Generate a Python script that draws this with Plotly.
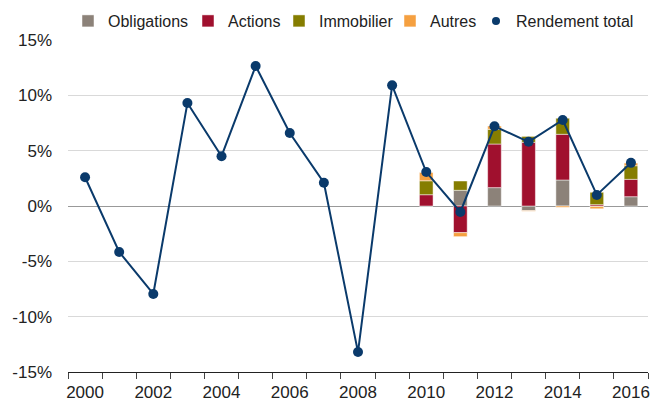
import plotly.graph_objects as go

years = list(range(2000, 2017))
total = [2.6, -4.15, -7.95, 9.3, 4.5, 12.65, 6.6, 2.1, -13.2, 10.9, 3.07, -0.54, 7.2, 5.8, 7.77, 1.0, 3.9]

bar_years = [2010, 2011, 2012, 2013, 2014, 2015, 2016]
obligations = [0.0, 1.42, 1.66, -0.42, 2.35, -0.05, 0.84]
actions = [1.02, -2.41, 3.94, 5.75, 4.13, 0.12, 1.57]
immobilier = [1.26, 0.84, 1.33, 0.54, 1.45, 1.12, 1.23]
autres = [0.75, -0.36, 0.3, -0.05, -0.12, -0.2, 0.24]

ytick_vals = [-15, -10, -5, 0, 5, 10, 15]
ytick_text = ["-15%", "-10%", "-5%", "0%", "5%", "10%", "15%"]
xtick_vals = list(range(2000, 2017, 2))

W, H = 653, 401
font = "Liberation Sans, Arial, sans-serif"
navy = "#0a3a6b"
fig = go.Figure()
series = [("Obligations", obligations, "#8c8279"),
          ("Actions", actions, "#a0102e"),
          ("Immobilier", immobilier, "#857d00"),
          ("Autres", autres, "#f5a040")]
legend_ids = ["legend", "legend2", "legend3", "legend4", "legend5"]
legend_px = [68, 188, 279, 390, 476]

for i, (name, vals, col) in enumerate(series):
    fig.add_trace(go.Bar(x=bar_years, y=vals, name=name, width=0.4, legend=legend_ids[i],
                         marker=dict(color=col, line=dict(color="rgba(255,255,255,0.6)", width=0.8))))

fig.add_trace(go.Scatter(x=years, y=total, name="Rendement total", mode="lines+markers",
                         showlegend=False,
                         line=dict(color=navy, width=2),
                         marker=dict(color=navy, size=10)))
# legend-only entry (dot without line)
fig.add_trace(go.Scatter(x=[None], y=[None], name="Rendement total", mode="markers",
                         legend="legend5", marker=dict(color=navy, size=8)))

layout_legends = {}
for lid, px in zip(legend_ids, legend_px):
    layout_legends[lid] = dict(x=px / W, xref="container", xanchor="left",
                               y=1 - 21 / H, yref="container", yanchor="middle",
                               orientation="h", font=dict(size=16, color="#222", family=font),
                               itemwidth=30, bgcolor="rgba(0,0,0,0)", borderwidth=0)

fig.update_layout(
    width=W, height=H,
    margin=dict(l=68, r=5, t=40, b=29, autoexpand=False),
    barmode="relative",
    plot_bgcolor="white", paper_bgcolor="white",
    font=dict(family=font, size=17, color="#222"),
    showlegend=True,
    **layout_legends,
)
fig.update_xaxes(range=[1999.5, 2016.5], tickvals=xtick_vals, ticktext=[str(v) for v in xtick_vals],
                 ticks="", showgrid=False, zeroline=False, showline=True, linecolor="#222", linewidth=1,
                 tickfont=dict(size=17, color="#222"), automargin=False, ticklabelstandoff=5,
                 minor=dict(tick0=1999.5, dtick=1, ticks="outside", ticklen=6, tickcolor="#444", showgrid=False))
fig.update_yaxes(range=[-15, 15], tickvals=ytick_vals, ticktext=ytick_text, showgrid=True,
                 gridcolor="#d9d9d9", gridwidth=1, zeroline=True, zerolinecolor="#999", zerolinewidth=1,
                 ticks="", ticklabelstandoff=15, automargin=False, tickfont=dict(size=17, color="#222"))

fig.write_html("out.html", config={"displayModeBar": False},
               post_script="document.body.style.margin='0';")
